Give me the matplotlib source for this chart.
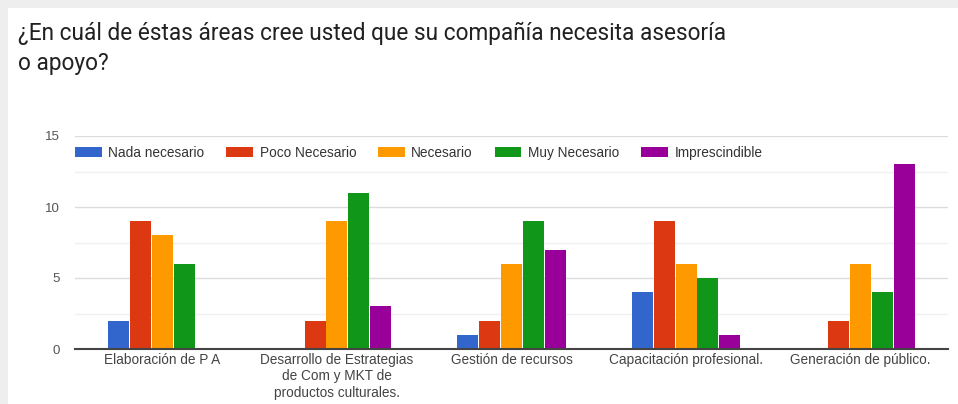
import matplotlib
matplotlib.use("Agg")
import matplotlib.pyplot as plt
from matplotlib.patches import Rectangle
import numpy as np

categories = ["Elaboración de P A",
              "Desarrollo de Estrategias\nde Com y MKT de\nproductos culturales.",
              "Gestión de recursos",
              "Capacitación profesional.",
              "Generación de público."]
series_names = ["Nada necesario", "Poco Necesario", "Necesario", "Muy Necesario", "Imprescindible"]
nada = [2, 0, 1, 4, 0]
poco = [9, 2, 2, 9, 2]
necesario = [8, 9, 6, 6, 6]
muy = [6, 11, 9, 5, 4]
imprescindible = [0, 3, 7, 1, 13]
colors = ["#3366CC", "#DC3912", "#FF9900", "#109618", "#990099"]
y_ticks = [0, 5, 10, 15]

title = "¿En cuál de éstas áreas cree usted que su compañía necesita asesoría\no apoyo?"

fig = plt.figure(figsize=(9.58, 4.04), dpi=100)
fig.patch.set_facecolor("#eeeeee")
bg = Rectangle((8/958, 0), 1, 1 - 8/404, transform=fig.transFigure,
               facecolor="white", edgecolor="none", zorder=-10)
fig.add_artist(bg)

ax = fig.add_axes([75/958, 1 - 349/404, (948 - 75)/958, (349 - 136)/404])
ax.set_facecolor("none")

data = [nada, poco, necesario, muy, imprescindible]
x = np.arange(len(categories))
w = 0.12
step = 0.125
for i, (vals, name, c) in enumerate(zip(data, series_names, colors)):
    ax.bar(x + (i - 2) * step, vals, width=w, color=c, label=name, zorder=3)

ax.set_xlim(-0.5, len(categories) - 0.5)
ax.set_ylim(0, 15)
ax.set_yticks(y_ticks)
ax.set_yticks([2.5, 7.5, 12.5], minor=True)
ax.grid(axis="y", which="major", color="#dcdcdc", linewidth=1, zorder=0)
ax.grid(axis="y", which="minor", color="#f0f0f0", linewidth=1, zorder=0)
ax.set_xticks(x)
ax.set_xticklabels(categories, fontsize=9.8, color="#444444", family="Liberation Sans",
                   linespacing=1.2, va="top")
for lbl in ax.get_yticklabels():
    lbl.set_fontsize(9.5)
    lbl.set_color("#555555")
    lbl.set_family("Liberation Sans")
ax.tick_params(axis="both", which="both", length=0)
ax.tick_params(axis="y", pad=11)
ax.tick_params(axis="x", pad=3)
for s in ["top", "right", "left"]:
    ax.spines[s].set_visible(False)
ax.spines["bottom"].set_color("#444444")
ax.spines["bottom"].set_linewidth(1.5)
ax.spines["bottom"].set_zorder(4)

leg = ax.legend(loc="upper left", bbox_to_anchor=(0.0, 0.955), ncol=5, frameon=False,
                prop={"family": "Liberation Sans", "size": 9.8},
                handlelength=1.95, handleheight=0.75, handletextpad=0.5,
                columnspacing=1.6, borderaxespad=0, borderpad=0)
for t in leg.get_texts():
    t.set_color("#333333")

fig.text(18/958, 1 - 22/404, title, fontsize=16.3, family="Roboto", color="#212121",
         va="top", ha="left", linespacing=1.4)

fig.savefig("out.png", dpi=100, facecolor=fig.get_facecolor())
